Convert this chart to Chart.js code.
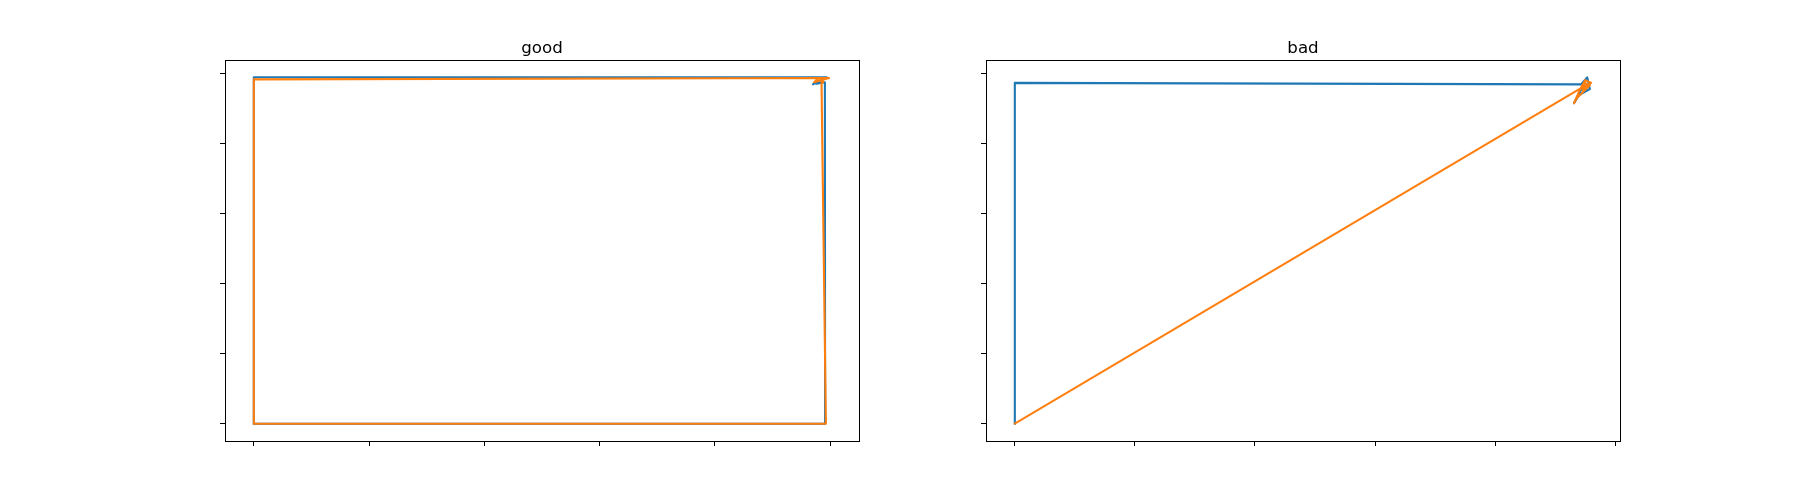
<!DOCTYPE html>
<html>
<head>
<meta charset="utf-8">
<script src="https://cdn.jsdelivr.net/npm/chart.js@4.4.0/dist/chart.umd.min.js"></script>
<style>
  html, body { margin: 0; padding: 0; background: #fff; }
  body { width: 1800px; height: 504px; position: relative; overflow: hidden; }
  canvas { position: absolute; top: 0; }
</style>
</head>
<body>
<canvas id="chart-good" width="720" height="504" style="left:182px"></canvas>
<canvas id="chart-bad" width="720" height="504" style="left:943px"></canvas>
<script>
// Títulos e ticks
const titles = ['good', 'bad'];
const xTicks = [0, 1, 2, 3, 4, 5];
const yTicks = [0, 1, 2, 3, 4, 5];

// Dados "good"
const goodBlueX = [0, 0, 4.97, 4.85, 4.90, 4.88, 4.954, 4.956, 0];
const goodBlueY = [0, 4.95, 4.95, 4.85, 4.90, 4.86, 4.88, 0, 0];
const goodOrangeX = [0, 0, 4.99, 4.86, 4.90, 4.94, 4.93, 4.925, 4.963, 0];
const goodOrangeY = [0, 4.92, 4.94, 4.88, 4.94, 4.88, 4.92, 4.86, 0, 0];

// Dados "bad"
const badBlueX = [0, 0, 4.715, 4.767, 4.789, 4.698, 4.657, 4.723];
const badBlueY = [0, 4.871, 4.849, 4.949, 4.783, 4.697, 4.581, 4.796];
const badOrangeX = [0, 4.715, 4.80, 4.75, 4.73, 4.78, 4.74, 4.70, 4.657, 4.68, 4.79, 4.76];
const badOrangeY = [0, 4.796, 4.87, 4.91, 4.77, 4.83, 4.88, 4.75, 4.581, 4.65, 4.84, 4.80];

const BLUE = '#1f77b4';
const ORANGE = '#ff7f0e';

function toPoints(xs, ys) {
    return xs.map((x, i) => ({ x: x, y: ys[i] }));
}

// Moldura da área do gráfico (como os spines do matplotlib)
const framePlugin = {
    id: 'frame',
    afterDatasetsDraw(chart) {
        const a = chart.chartArea;
        const ctx = chart.ctx;
        ctx.save();
        ctx.strokeStyle = '#000';
        ctx.lineWidth = 1;
        ctx.strokeRect(Math.round(a.left) + 0.5, Math.round(a.top) + 0.5,
            Math.round(a.right - a.left), Math.round(a.bottom - a.top));
        ctx.restore();
    }
};

function lineDataset(points, color, order) {
    return {
        data: points,
        order: order,
        showLine: true,
        borderColor: color,
        backgroundColor: color,
        borderWidth: 2.1,
        borderJoinStyle: 'round',
        borderCapStyle: 'square',
        pointRadius: 0,
        tension: 0
    };
}

function createPlot(id, title, blue, orange, xRange) {
    const ctx = document.getElementById(id).getContext('2d');
    const tickGrid = {
        display: true,
        drawOnChartArea: false,
        drawTicks: true,
        tickLength: 5,
        color: '#000',
        lineWidth: 1
    };
    return new Chart(ctx, {
        type: 'scatter',
        data: {
            // laranja por cima do azul
            datasets: [lineDataset(blue, BLUE, 1), lineDataset(orange, ORANGE, 0)]
        },
        plugins: [framePlugin],
        options: {
            responsive: false,
            animation: false,
            devicePixelRatio: 1,
            layout: { padding: { left: 38, right: 38, top: 0, bottom: 58 } },
            plugins: {
                legend: { display: false },
                tooltip: { enabled: false },
                title: {
                    display: true,
                    text: title,
                    color: '#000',
                    font: { family: 'DejaVu Sans', size: 16.67, weight: 'normal', lineHeight: 1.2 },
                    padding: { top: 39, bottom: 1 }
                }
            },
            scales: {
                x: {
                    type: 'linear',
                    position: 'bottom',
                    min: xRange[0],
                    max: xRange[1],
                    grid: tickGrid,
                    border: { display: false },
                    ticks: { display: false },
                    afterBuildTicks: s => { s.ticks = xTicks.map(v => ({ value: v })); },
                    afterFit: s => { s.height = 5; }
                },
                y: {
                    type: 'linear',
                    position: 'left',
                    min: -0.2475,
                    max: 5.1975,
                    grid: tickGrid,
                    border: { display: false },
                    ticks: { display: false },
                    afterBuildTicks: s => { s.ticks = yTicks.map(v => ({ value: v })); },
                    afterFit: s => { s.width = 5; }
                },
                y2: {
                    type: 'linear',
                    position: 'right',
                    grid: { display: false },
                    border: { display: false },
                    ticks: { display: false },
                    afterFit: s => { s.width = 5; }
                }
            }
        }
    });
}

createPlot('chart-good', titles[0],
    toPoints(goodBlueX, goodBlueY), toPoints(goodOrangeX, goodOrangeY), [-0.25, 5.25]);
createPlot('chart-bad', titles[1],
    toPoints(badBlueX, badBlueY), toPoints(badOrangeX, badOrangeY), [-0.24, 5.04]);
</script>
</body>
</html>
